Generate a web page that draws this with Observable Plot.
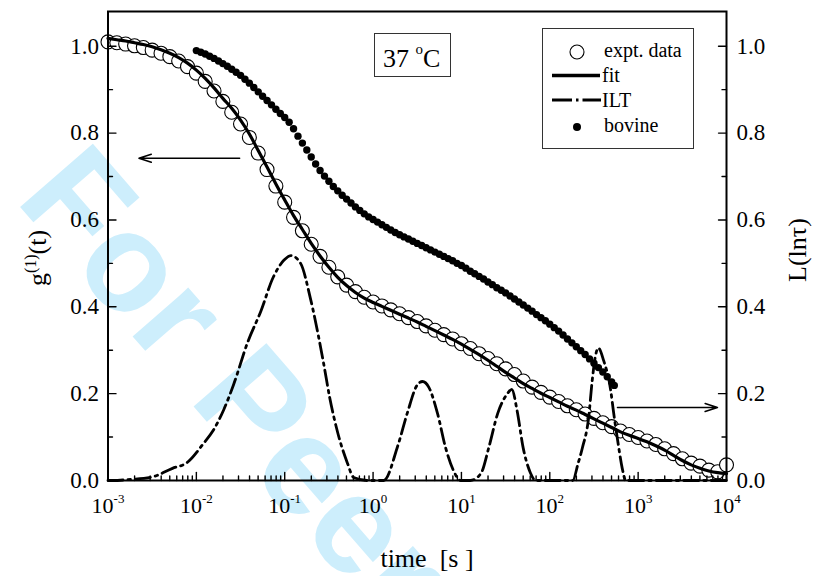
<!DOCTYPE html>
<html><head><meta charset="utf-8">
<script src="https://cdn.jsdelivr.net/npm/d3@7"></script>
<script src="https://cdn.jsdelivr.net/npm/@observablehq/plot@0.6"></script>
<style>body{margin:0;background:#fff}</style>
</head><body><div id="chart"></div>
<script>
// ---- data (log10 of time in s) ----
const expLogT = [-3.0,-2.9,-2.8,-2.7,-2.6,-2.5,-2.4,-2.3,-2.2,-2.1,-2.0,-1.9,-1.8,-1.7,-1.6,-1.5,-1.4,-1.3,-1.2,-1.1,-1.0,-0.9,-0.8,-0.7,-0.6,-0.5,-0.4,-0.3,-0.2,-0.1,0.0,0.1,0.2,0.3,0.4,0.5,0.6,0.7,0.8,0.9,1.0,1.1,1.2,1.3,1.4,1.5,1.6,1.7,1.8,1.9,2.0,2.1,2.2,2.3,2.4,2.5,2.6,2.7,2.8,2.9,3.0,3.1,3.2,3.3,3.4,3.5,3.6,3.7,3.8,3.9,4.0];
const expG = [1.010,1.008,1.005,1.001,0.997,0.991,0.984,0.976,0.966,0.953,0.938,0.919,0.897,0.873,0.848,0.821,0.790,0.754,0.716,0.678,0.641,0.606,0.575,0.544,0.516,0.491,0.469,0.450,0.435,0.422,0.411,0.402,0.393,0.384,0.375,0.366,0.356,0.346,0.336,0.326,0.315,0.304,0.292,0.281,0.269,0.257,0.244,0.229,0.215,0.203,0.192,0.182,0.172,0.163,0.153,0.143,0.133,0.124,0.114,0.106,0.099,0.091,0.083,0.073,0.062,0.050,0.040,0.033,0.024,0.020,0.036];
const fitG = [1.018,1.015,1.012,1.008,1.004,0.999,0.992,0.984,0.974,0.961,0.945,0.926,0.904,0.880,0.857,0.830,0.798,0.760,0.722,0.683,0.646,0.610,0.578,0.546,0.517,0.491,0.468,0.449,0.433,0.420,0.410,0.401,0.392,0.383,0.374,0.365,0.355,0.345,0.335,0.325,0.314,0.302,0.290,0.277,0.263,0.249,0.236,0.223,0.212,0.201,0.191,0.181,0.171,0.162,0.152,0.142,0.132,0.122,0.112,0.104,0.097,0.089,0.080,0.070,0.058,0.046,0.036,0.028,0.022,0.018,0.016];

const bovLogT = [-2.00,-1.95,-1.90,-1.85,-1.80,-1.75,-1.70,-1.65,-1.60,-1.55,-1.50,-1.45,-1.40,-1.35,-1.30,-1.25,-1.20,-1.15,-1.10,-1.05,-1.00,-0.95,-0.90,-0.85,-0.80,-0.75,-0.70,-0.65,-0.60,-0.55,-0.50,-0.45,-0.40,-0.35,-0.30,-0.25,-0.20,-0.15,-0.10,-0.05,0.00,0.05,0.10,0.15,0.20,0.25,0.30,0.35,0.40,0.45,0.50,0.55,0.60,0.65,0.70,0.75,0.80,0.85,0.90,0.95,1.00,1.05,1.10,1.15,1.20,1.25,1.30,1.35,1.40,1.45,1.50,1.55,1.60,1.65,1.70,1.75,1.80,1.85,1.90,1.95,2.00,2.05,2.10,2.15,2.20,2.25,2.30,2.35,2.40,2.45,2.50,2.55,2.60,2.65,2.70,2.73];
const bovL = [0.990,0.986,0.982,0.977,0.972,0.966,0.960,0.954,0.947,0.940,0.933,0.924,0.915,0.905,0.895,0.885,0.875,0.865,0.855,0.845,0.836,0.825,0.810,0.793,0.777,0.761,0.745,0.729,0.714,0.701,0.689,0.677,0.667,0.657,0.648,0.639,0.630,0.622,0.614,0.607,0.601,0.595,0.589,0.583,0.577,0.571,0.566,0.561,0.556,0.551,0.546,0.541,0.536,0.531,0.526,0.521,0.516,0.511,0.506,0.500,0.495,0.489,0.482,0.476,0.470,0.464,0.457,0.451,0.444,0.438,0.432,0.425,0.418,0.411,0.404,0.397,0.390,0.382,0.375,0.368,0.360,0.352,0.344,0.335,0.326,0.317,0.308,0.299,0.290,0.280,0.270,0.260,0.250,0.239,0.227,0.219];

const iltLogT = [-3.0,-2.94,-2.78,-2.52,-2.27,-2.10,-1.92,-1.81,-1.69,-1.58,-1.42,-1.27,-1.13,-1.01,-0.93,-0.82,-0.71,-0.56,-0.49,-0.40,-0.29,-0.22,-0.06,0.12,0.28,0.39,0.50,0.56,0.63,0.73,0.82,0.91,0.99,1.10,1.22,1.31,1.41,1.52,1.57,1.63,1.70,1.78,1.84,2.26,2.32,2.37,2.44,2.48,2.52,2.55,2.61,2.69,2.72,2.77,2.82,2.86,4.0];
const iltL = [0,0,0.002,0.007,0.028,0.042,0.085,0.115,0.163,0.22,0.318,0.39,0.468,0.507,0.518,0.50,0.42,0.27,0.19,0.11,0.04,0.007,0,0,0.08,0.157,0.22,0.228,0.215,0.154,0.076,0.023,0,0,0.016,0.076,0.154,0.20,0.21,0.161,0.074,0.018,0,0,0.039,0.076,0.145,0.23,0.29,0.305,0.276,0.207,0.16,0.09,0.028,0,0];

// annotation arrows (which axis each curve belongs to)
const arrowFromLogT = [-1.51, 2.766];
const arrowToLogT = [-2.65, 3.898];
const arrowY = [0.742, 0.168];

// ticks & labels
const xTickExps = [-3,-2,-1,0,1,2,3,4];
const yMajorTicks = [0,0.2,0.4,0.6,0.8,1.0];
const yMinorTicks = [0.1,0.3,0.5,0.7,0.9];
const legendLabels = ["expt. data","fit","ILT","bovine"];
const tempLabel = ["37 ","o","C"];
const xTitle = "time  [s ]";
const watermark = "For Peer Review";

// ---- tables ----
const expt = expLogT.map((lt,i)=>({t:10**lt, g:expG[i], f:fitG[i]}));
const bov = bovLogT.map((lt,i)=>({t:10**lt, v:bovL[i]}));
const ilt = iltLogT.map((lt,i)=>({t:10**lt, v:iltL[i]}));
const arrows = arrowY.map((y,i)=>({x1:10**arrowFromLogT[i], x2:10**arrowToLogT[i], y}));
const xMajor = xTickExps.map(e=>10**e);
const xMinor = [];
for (const e of xTickExps.slice(0,-1)) for (let m=2;m<=9;m++) xMinor.push(m*10**e);

const tickShape = {draw(ctx, l){ctx.moveTo(0,0); ctx.lineTo(0,-l);}};
const tk = (data, opts) => Plot.vector(data, {anchor:"start", shape:tickShape, stroke:"black", strokeWidth:1.4, ...opts});

const chart = Plot.plot({
  width: 816, height: 576,
  marginLeft: 107.5, marginRight: 90, marginTop: 11, marginBottom: 96,
  x: {type:"log", domain:[1e-3, 1e4]},
  y: {domain:[0, 1.08]},
  style: {fontFamily:"Liberation Serif", fontSize:"23px", color:"black", background:"white"},
  marks: [
    Plot.dot(expt, {x:"t", y:"g", r:7, fill:"white", stroke:"black", strokeWidth:1.1}),
    Plot.line(expt, {x:"t", y:"f", stroke:"black", strokeWidth:3.2, curve:"monotone-x"}),
    Plot.line(ilt, {x:"t", y:"v", stroke:"black", strokeWidth:2.8, strokeDasharray:"15,5,2.5,5", curve:"monotone-x"}),
    Plot.dot(bov, {x:"t", y:"v", r:3.7, fill:"black"}),
    Plot.arrow(arrows, {x1:"x1", x2:"x2", y1:"y", y2:"y", stroke:"black", strokeWidth:1.5, headLength:13, headAngle:36}),
    Plot.frame({stroke:"black", strokeWidth:2}),
    tk(xMajor, {x:d=>d, frameAnchor:"bottom", rotate:0, length:8}),
    tk(xMinor, {x:d=>d, frameAnchor:"bottom", rotate:0, length:4.5}),
    tk(yMajorTicks, {y:d=>d, frameAnchor:"left", rotate:90, length:8}),
    tk(yMinorTicks, {y:d=>d, frameAnchor:"left", rotate:90, length:4.5}),
    tk(yMajorTicks, {y:d=>d, frameAnchor:"right", rotate:-90, length:8}),
    tk(yMinorTicks, {y:d=>d, frameAnchor:"right", rotate:-90, length:4.5}),
    Plot.axisX({ticks:xMajor, tickSize:0, tickPadding:17, fontSize:22, label:null,
      tickFormat:d=>"10^"+Math.round(Math.log10(d))}),
    Plot.axisY({anchor:"left", ticks:yMajorTicks, tickSize:0, tickPadding:9, fontSize:23, label:null, tickFormat:d3.format(".1f")}),
    Plot.axisY({anchor:"right", ticks:yMajorTicks, tickSize:0, tickPadding:10, fontSize:23, label:null, tickFormat:d3.format(".1f")})
  ]
});
document.getElementById("chart").appendChild(chart);

const svg = d3.select(chart);
// superscript exponents on x tick labels
svg.selectAll('g[aria-label="x-axis tick label"] text').each(function(){
  const [b,e] = this.textContent.split("^");
  const t = d3.select(this); t.text(b);
  t.append("tspan").attr("dy", -10).attr("font-size", 13).text(e);
});

// watermark behind everything
svg.insert("text", ":first-child")
  .attr("transform", "translate(14,200) rotate(49)").attr("text-anchor","start")
  .attr("font-family", "Liberation Sans").attr("font-weight", "bold").attr("font-size", 140)
  .attr("fill", "#cdeefc").text(watermark);

const serif = "Liberation Serif";
// axis titles
const yl = svg.append("text").attr("transform","translate(46,258) rotate(-90)")
  .attr("text-anchor","middle").attr("font-family",serif).attr("font-size",26).attr("fill","black");
yl.append("tspan").text("g");
yl.append("tspan").attr("dy",-10).attr("font-size",16).text("(1)");
yl.append("tspan").attr("dy",10).text("(t)");

svg.append("text").attr("transform","translate(806,250) rotate(-90)")
  .attr("text-anchor","middle").attr("font-family",serif).attr("font-size",26).attr("fill","black")
  .text("L(ln\u03C4)");

svg.append("text").attr("x",427).attr("y",567).attr("text-anchor","middle")
  .attr("font-family",serif).attr("font-size",26).attr("fill","black")
  .style("white-space","pre").text(xTitle);

// temperature label box
svg.append("rect").attr("x",374.5).attr("y",33.5).attr("width",76).attr("height",43)
  .attr("fill","white").attr("stroke","#333").attr("stroke-width",1);
const tl = svg.append("text").attr("x",383).attr("y",67).attr("text-anchor","start").attr("font-family",serif).attr("font-size",26)
  .attr("fill","black").style("white-space","pre");
tl.append("tspan").text(tempLabel[0]);
tl.append("tspan").attr("dy",-13).attr("font-size",15).text(tempLabel[1]);
tl.append("tspan").attr("dy",13).text(tempLabel[2]);

// legend
const lg = svg.append("g");
lg.append("rect").attr("x",542.5).attr("y",28.5).attr("width",151).attr("height",120)
  .attr("fill","white").attr("stroke","#333").attr("stroke-width",1);
lg.append("circle").attr("cx",577).attr("cy",52).attr("r",7).attr("fill","white").attr("stroke","black").attr("stroke-width",1.1);
lg.append("line").attr("x1",552).attr("x2",600).attr("y1",75.5).attr("y2",75.5).attr("stroke","black").attr("stroke-width",3.5);
lg.append("line").attr("x1",552).attr("x2",601).attr("y1",100).attr("y2",100).attr("stroke","black").attr("stroke-width",3)
  .attr("stroke-dasharray","20,4,2.5,4");
lg.append("circle").attr("cx",577).attr("cy",127).attr("r",4).attr("fill","black");
const lx = [604,602,602,604], ly = [57,82,107,132];
legendLabels.forEach((s,i)=>lg.append("text").attr("x",lx[i]).attr("y",ly[i]).attr("text-anchor","start").attr("font-family",serif)
  .attr("font-size",20).attr("fill","black").text(s));
</script>
</body></html>
